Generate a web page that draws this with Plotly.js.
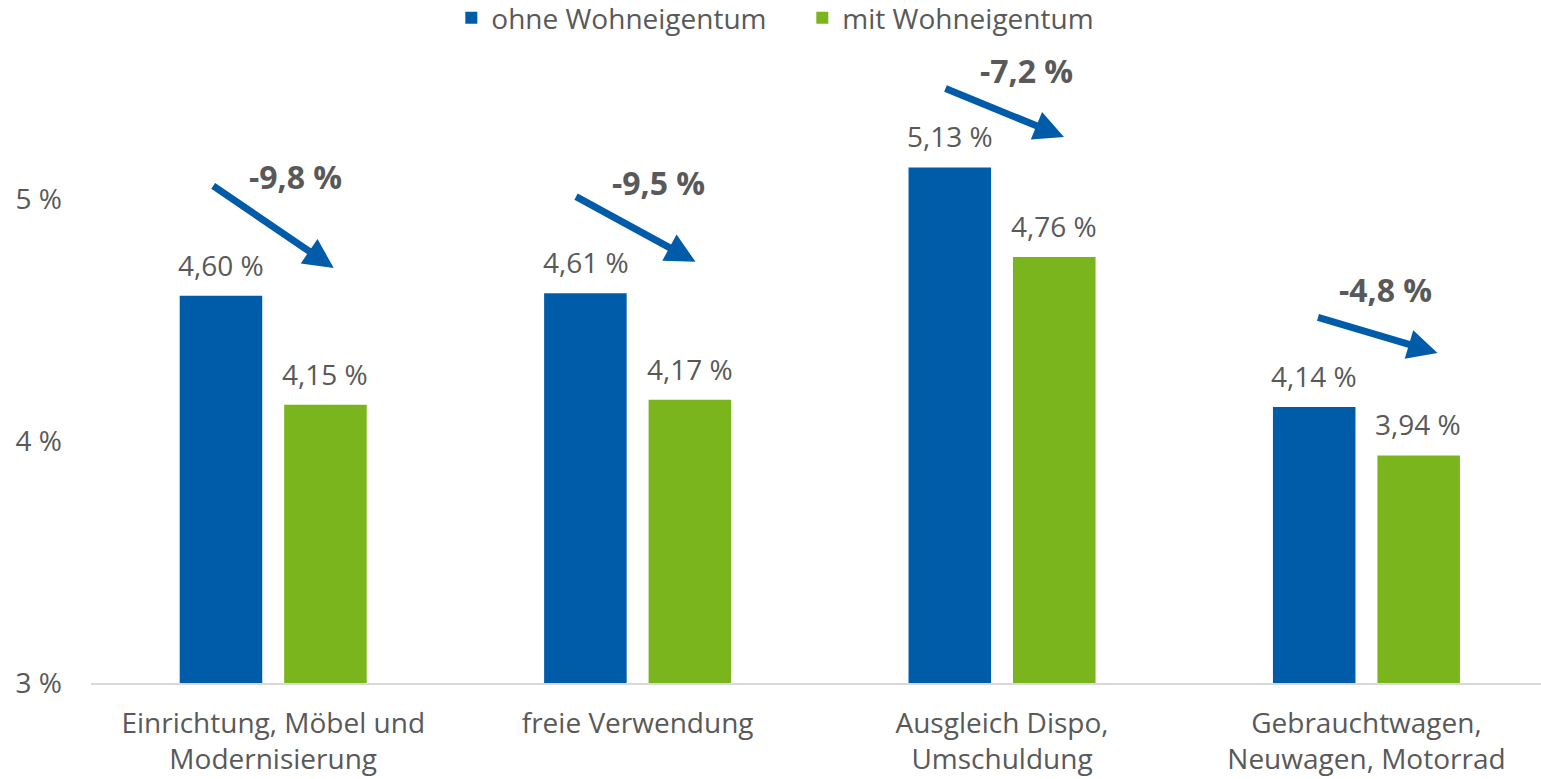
<!DOCTYPE html>
<html>
<head>
<meta charset="utf-8">
<script src="https://cdn.plot.ly/plotly-3.0.1.min.js"></script>
<style>html,body{margin:0;padding:0;background:#fff;}#chart{width:1541px;height:779px;}</style>
</head>
<body>
<div id="chart"></div>
<script>
const categories = ['Einrichtung, Möbel und<br>Modernisierung', 'freie Verwendung', 'Ausgleich Dispo,<br>Umschuldung', 'Gebrauchtwagen,<br>Neuwagen, Motorrad'];
const ohneWohneigentum = [4.60, 4.61, 5.13, 4.14];
const mitWohneigentum = [4.15, 4.17, 4.76, 3.94];
const changeLabels = ['-9,8 %', '-9,5 %', '-7,2 %', '-4,8 %'];
const seriesNames = ['ohne Wohneigentum', 'mit Wohneigentum'];
const yTickVals = [3, 4, 5];
const yTickText = ['3 %', '4 %', '5 %'];

const BLUE = '#005CA9', GREEN = '#7AB51D', GRAY = '#595959';
const FONT = 'Open Sans, Noto Sans, sans-serif';
const fmt = v => v.toFixed(2).replace('.', ',') + ' %';

const traces = [
  {type: 'bar', name: seriesNames[0], x: categories, y: ohneWohneigentum, marker: {color: BLUE}, hoverinfo: 'none'},
  {type: 'bar', name: seriesNames[1], x: categories, y: mitWohneigentum, marker: {color: GREEN}, hoverinfo: 'none'}
];

const annotations = [];
const barShift = 52;
[ohneWohneigentum, mitWohneigentum].forEach((arr, s) => {
  arr.forEach((v, i) => {
    annotations.push({x: i, y: v, xref: 'x', yref: 'y', text: fmt(v), showarrow: false,
      yanchor: 'bottom', xanchor: 'center', xshift: s === 0 ? -barShift : barShift, yshift: 10,
      font: {family: FONT, size: 28, color: GRAY}});
  });
});
// arrow placement (layout)
const arrowHeads = [[0.166, 4.715, -122, -83], [0.159, 4.74, -121, -66], [0.170, 5.256, -120, -49], [0.195, 4.364, -121, -36]];
const labelPos = [[0.062, 5.091], [0.058, 5.07], [0.066, 5.529], [0.052, 4.624]];
changeLabels.forEach((t, i) => {
  const a = arrowHeads[i];
  annotations.push({x: a[0] + i, y: a[1], xref: 'x', yref: 'y', ax: a[2], ay: a[3], axref: 'pixel', ayref: 'pixel',
    showarrow: true, arrowhead: 2, arrowsize: 0.85, arrowwidth: 7, arrowcolor: BLUE, text: ''});
  const p = labelPos[i];
  annotations.push({x: p[0] + i, y: p[1], xref: 'x', yref: 'y', text: '<b>' + t + '</b>', showarrow: false,
    xanchor: 'center', yanchor: 'middle', font: {family: FONT, size: 32, color: GRAY}});
});

const layout = {
  width: 1541, height: 779,
  margin: {l: 90.5, r: 0, t: 0, b: 96, autoexpand: false},
  paper_bgcolor: '#fff', plot_bgcolor: '#fff',
  barmode: 'group', bargap: 0.4266, bargroupgap: 0.21,
  showlegend: true,
  legend: {orientation: 'h', xref: 'paper', yref: 'paper', x: 0.2485, xanchor: 'left', y: 1.0102, yanchor: 'top',
    font: {family: FONT, size: 28, color: GRAY}, itemwidth: 30, entrywidth: 306, traceorder: 'normal', bgcolor: 'rgba(0,0,0,0)'},
  xaxis: {type: 'category', range: [-0.5, 3.479], showline: true, linecolor: '#D9D9D9', linewidth: 2, automargin: false,
    showgrid: false, zeroline: false, ticks: '', ticklabelstandoff: 14, tickfont: {family: FONT, size: 28, color: GRAY}, fixedrange: true},
  yaxis: {range: [3, 5.822], tickvals: yTickVals, ticktext: yTickText, showgrid: false, zeroline: false, automargin: false,
    showline: false, ticks: '', ticklabelstandoff: 28, tickfont: {family: FONT, size: 28, color: GRAY}, fixedrange: true},
  annotations: annotations,
  font: {family: FONT, color: GRAY}
};

Plotly.newPlot('chart', traces, layout, {displayModeBar: false, staticPlot: true});
</script>
</body>
</html>
